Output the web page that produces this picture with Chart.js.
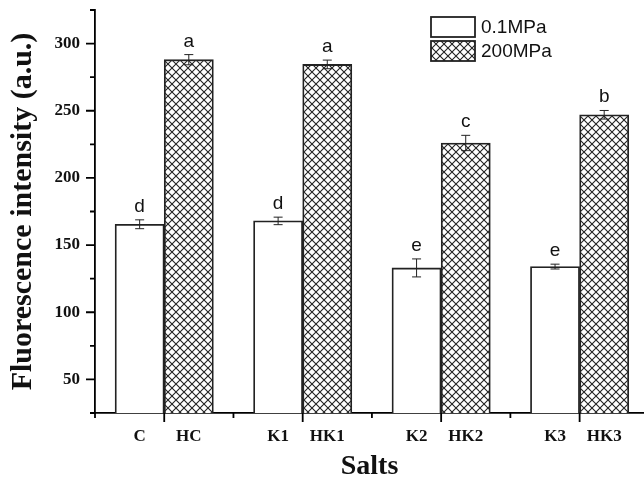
<!DOCTYPE html>
<html>
<head>
<meta charset="utf-8">
<script src="https://cdn.jsdelivr.net/npm/chart.js@4.4.0/dist/chart.umd.min.js"></script>
<style>
	html, body { margin: 0; padding: 0; background: #fff; overflow: hidden; }
</style>
</head>
<body>
<canvas id="salts-canvas" width="644" height="481"></canvas>
<script>
// 0.1MPa (plain) and 200MPa (hatched) bars, one pair per salt group
const lowLabels = ['C', 'K1', 'K2', 'K3'];
const highLabels = ['HC', 'HK1', 'HK2', 'HK3'];
const lowValues = [165.5, 168, 133, 134];
const lowErrors = [3.3, 2.8, 6.7, 1.8];
const highValues = [288, 284.5, 226, 247];
const highErrors = [3.8, 3.2, 5.7, 3.2];
const lowLetters = ['d', 'd', 'e', 'e'];
const highLetters = ['a', 'a', 'c', 'b'];
const seriesNames = ['0.1MPa', '200MPa'];
const yTicks = [50, 100, 150, 200, 250, 300];

const halfBar = 0.355; // half a bar width, in x units

const canvas = document.getElementById('salts-canvas');
const ctx2d = canvas.getContext('2d');

function crossHatch() {
	const tile = document.createElement('canvas');
	tile.width = 8;
	tile.height = 8;
	const g = tile.getContext('2d');
	g.fillStyle = '#fff';
	g.fillRect(0, 0, 8, 8);
	g.strokeStyle = '#222';
	g.lineWidth = 1.1;
	g.beginPath();
	g.moveTo(-1, -1); g.lineTo(9, 9);
	g.moveTo(9, -1); g.lineTo(-1, 9);
	g.stroke();
	return ctx2d.createPattern(tile, 'repeat');
}
const hatch = crossHatch();

const lowData = lowValues.map((v, i) => ({x: 2 * i + 1 - halfBar, y: v}));
const highData = highValues.map((v, i) => ({x: 2 * i + 1 + halfBar, y: v}));
const tickLabels = [];
lowLabels.forEach((l, i) => { tickLabels.push(l, highLabels[i]); });
const tickValues = [];
lowData.forEach((d, i) => { tickValues.push(d.x, highData[i].x); });

const errors = [lowErrors, highErrors];
const letters = [lowLetters, highLetters];

const extras = {
	id: 'extras',
	afterDatasetsDraw(chart) {
		const {ctx, scales: {y}} = chart;
		ctx.save();
		ctx.strokeStyle = '#222';
		ctx.lineWidth = 1;
		ctx.fillStyle = '#111';
		ctx.font = '19px "Liberation Sans", Arial, sans-serif';
		ctx.textAlign = 'center';
		ctx.textBaseline = 'alphabetic';
		chart.data.datasets.forEach((ds, di) => {
			const meta = chart.getDatasetMeta(di);
			meta.data.forEach((bar, i) => {
				const v = ds.data[i].y;
				const e = errors[di][i];
				const top = y.getPixelForValue(v + e);
				const bot = y.getPixelForValue(v - e);
				ctx.beginPath();
				ctx.moveTo(bar.x, top); ctx.lineTo(bar.x, bot);
				ctx.moveTo(bar.x - 4.5, top); ctx.lineTo(bar.x + 4.5, top);
				ctx.moveTo(bar.x - 4.5, bot); ctx.lineTo(bar.x + 4.5, bot);
				ctx.stroke();
				ctx.fillText(letters[di][i], bar.x, top - 8);
			});
		});
		ctx.restore();
	},
	afterDraw(chart) {
		const {ctx, chartArea, scales: {x, y}} = chart;
		ctx.save();
		// tick marks, major and minor
		ctx.strokeStyle = '#000';
		ctx.lineWidth = 1.8;
		ctx.beginPath();
		for (let v = y.min; v <= y.max; v += 25) {
			const py = y.getPixelForValue(v);
			const len = v % 50 === 0 ? 9 : 5;
			ctx.moveTo(chartArea.left - len, py);
			ctx.lineTo(chartArea.left, py);
		}
		for (let i = 0; i <= 7; i++) {
			const px = x.getPixelForValue(i);
			const len = i % 2 ? 9 : 5;
			ctx.moveTo(px, chartArea.bottom);
			ctx.lineTo(px, chartArea.bottom + len);
		}
		ctx.stroke();

		// legend
		const lx = chartArea.left + 336;
		const ly = chartArea.top + 7;
		ctx.font = '19px "Liberation Sans", Arial, sans-serif';
		ctx.textAlign = 'left';
		ctx.textBaseline = 'middle';
		chart.data.datasets.forEach((ds, di) => {
			const by = ly + di * 24;
			ctx.fillStyle = ds.backgroundColor;
			ctx.fillRect(lx, by, 44, 20);
			ctx.lineWidth = 1.8;
			ctx.strokeStyle = '#222';
			ctx.strokeRect(lx, by, 44, 20);
			ctx.fillStyle = '#111';
			ctx.fillText(ds.label, lx + 50, by + 11);
		});
		ctx.restore();
	}
};

new Chart(canvas, {
	type: 'bar',
	data: {
		datasets: [
			{
				label: seriesNames[0],
				data: lowData,
				backgroundColor: '#fff',
				borderColor: '#222',
				borderWidth: 1.8,
				grouped: false,
				barPercentage: 1,
				categoryPercentage: 1
			},
			{
				label: seriesNames[1],
				data: highData,
				backgroundColor: hatch,
				borderColor: '#222',
				borderWidth: 1.8,
				grouped: false,
				barPercentage: 1,
				categoryPercentage: 1
			}
		]
	},
	options: {
		responsive: false,
		animation: false,
		layout: {
			padding: {top: 10, right: 0, left: 0, bottom: 0}
		},
		scales: {
			x: {
				type: 'linear',
				offset: false,
				min: 0,
				max: 7.93,
				afterBuildTicks: scale => {
					scale.ticks = tickValues.map(v => ({value: v}));
				},
				afterFit: scale => {
					scale.height = 68;
					scale.paddingLeft = 0;
					scale.paddingRight = 0;
				},
				ticks: {
					autoSkip: false,
					maxRotation: 0,
					padding: 4,
					color: '#111',
					font: {family: '"Liberation Serif", "Times New Roman", serif', size: 17, weight: 'bold'},
					callback: (value, index) => tickLabels[index]
				},
				grid: {
					drawOnChartArea: false,
					offset: false,
					tickLength: 9,
					tickColor: 'transparent'
				},
				border: {color: '#000', width: 1.8},
				title: {
					display: true,
					text: 'Salts',
					color: '#111',
					padding: {top: 0, bottom: 0},
					font: {family: '"Liberation Serif", "Times New Roman", serif', size: 28, weight: 'bold', lineHeight: 1}
				}
			},
			y: {
				min: 25,
				max: 325,
				afterBuildTicks: scale => {
					scale.ticks = yTicks.map(v => ({value: v}));
				},
				afterFit: scale => {
					scale.width = 95;
					scale.paddingTop = 0;
					scale.paddingBottom = 0;
				},
				ticks: {
					padding: 6,
					color: '#111',
					font: {family: '"Liberation Serif", "Times New Roman", serif', size: 17, weight: 'bold'}
				},
				grid: {
					drawOnChartArea: false,
					tickLength: 9,
					tickColor: 'transparent'
				},
				border: {color: '#000', width: 1.8},
				title: {
					display: true,
					text: 'Fluorescence intensity (a.u.)',
					color: '#111',
					padding: {top: 8, bottom: 0},
					font: {family: '"Liberation Serif", "Times New Roman", serif', size: 30, weight: 'bold', lineHeight: 1}
				}
			}
		},
		plugins: {
			legend: {display: false},
			tooltip: {enabled: false}
		}
	},
	plugins: [extras]
});
</script>
</body>
</html>
